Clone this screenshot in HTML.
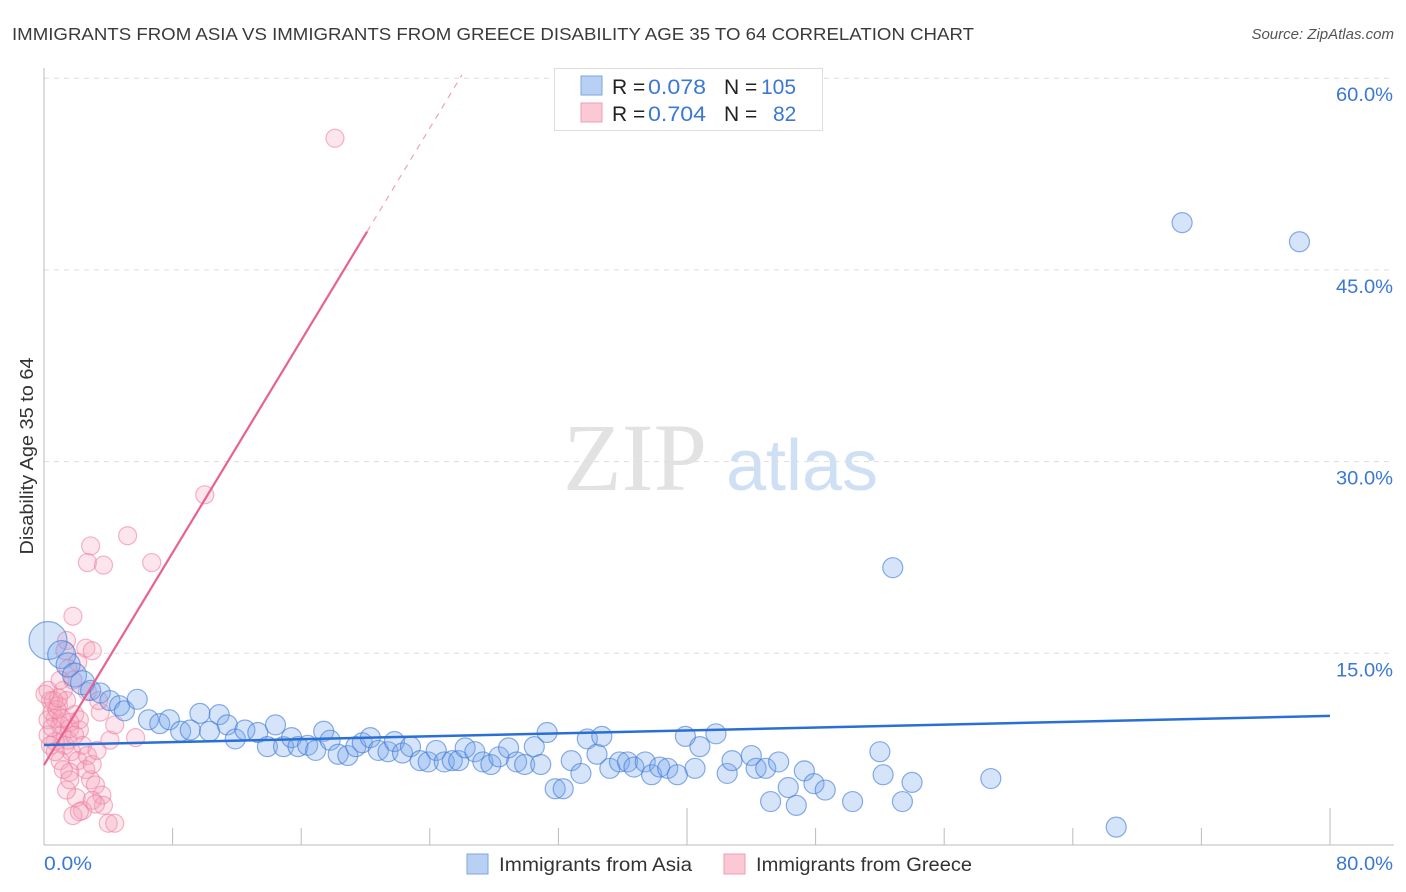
<!DOCTYPE html>
<html><head><meta charset="utf-8">
<style>
body{margin:0;background:#fff;font-family:"Liberation Sans",sans-serif;}
svg{display:block}
</style></head>
<body>
<svg id="chart" width="1406" height="892" viewBox="0 0 1406 892">
<text x="12" y="40" font-size="17.5" fill="#3a3a3a" textLength="962" lengthAdjust="spacingAndGlyphs">IMMIGRANTS FROM ASIA VS IMMIGRANTS FROM GREECE DISABILITY AGE 35 TO 64 CORRELATION CHART</text>
<text x="1394" y="39" font-size="15" font-style="italic" fill="#555" text-anchor="end">Source: ZipAtlas.com</text>
<g>
<text x="635" y="490" font-size="96" font-family="Liberation Serif,serif" fill="#e2e2e2" text-anchor="middle">ZIP</text>
<text x="802" y="490" font-size="72" fill="#cfe0f5" text-anchor="middle">atlas</text>
</g>
<g id="grid"></g>
<g id="axes"></g>
<g id="marks"></g>
<text x="33" y="456" font-size="18.5" fill="#333" text-anchor="middle" transform="rotate(-90 33 456)" textLength="197" lengthAdjust="spacingAndGlyphs">Disability Age 35 to 64</text>
<g>
<rect x="554.5" y="68.5" width="268" height="62" fill="#fff" stroke="#ddd"/>
<rect x="581" y="76" width="21" height="19" fill="#b8d0f3" stroke="#7ea6e0"/>
<rect x="581" y="103" width="21" height="19" fill="#fbc8d6" stroke="#f19bb5"/>
<text y="94" font-size="21"><tspan x="612" fill="#222">R =</tspan><tspan x="648" fill="#3a78d4" textLength="58" lengthAdjust="spacingAndGlyphs">0.078</tspan><tspan x="724" fill="#222">N =</tspan><tspan x="761" fill="#3a78d4">105</tspan></text>
<text y="121" font-size="21"><tspan x="612" fill="#222">R =</tspan><tspan x="648" fill="#3a78d4" textLength="58" lengthAdjust="spacingAndGlyphs">0.704</tspan><tspan x="724" fill="#222">N =</tspan><tspan x="773" fill="#3a78d4">82</tspan></text>
</g>
<g>
<rect x="467" y="854" width="21" height="20" fill="#b8d0f3" stroke="#7ea6e0"/>
<text x="499" y="871" font-size="19" fill="#333" textLength="193" lengthAdjust="spacingAndGlyphs">Immigrants from Asia</text>
<rect x="724" y="854" width="21" height="20" fill="#fbc8d6" stroke="#f19bb5"/>
<text x="756" y="871" font-size="19" fill="#333" textLength="216" lengthAdjust="spacingAndGlyphs">Immigrants from Greece</text>
</g>
</svg>
<script>
const yTicks=[15,30,45,60];
const yTickLabels=["15.0%","30.0%","45.0%","60.0%"];
const xTicks=[0,8,16,24,32,40,48,56,64,72,80];
const xEndLabels=["0.0%","80.0%"];
const asiaX=[0.25,1.1,1.5,1.9,2.4,2.9,3.5,4.1,4.7,5.0,5.8,6.5,7.2,7.8,8.5,9.1,9.7,10.3,10.9,11.4,11.9,12.5,13.3,13.9,14.4,14.9,15.4,15.8,16.4,16.9,17.4,17.8,18.3,18.9,19.4,19.8,20.3,20.8,21.4,21.8,22.3,22.8,23.4,23.9,24.4,24.9,25.4,25.8,26.2,26.8,27.3,27.8,28.3,28.9,29.4,29.9,30.5,30.9,31.3,31.8,32.3,32.8,33.4,33.8,34.4,34.7,35.2,35.8,36.3,36.7,37.4,37.8,38.3,38.8,39.4,39.9,40.5,40.8,41.8,42.5,42.8,44.0,44.3,44.9,45.7,45.2,46.3,46.8,47.3,47.9,48.6,50.3,52.0,52.2,52.8,53.4,54.0,58.9,66.7,70.8,78.1];
const asiaY=[16.0,14.9,14.1,13.3,12.7,12.1,11.9,11.3,10.9,10.5,11.4,9.8,9.5,9.8,8.9,9.0,10.3,8.9,10.2,9.4,8.3,9.0,8.8,7.7,9.4,7.7,8.4,7.7,7.8,7.4,8.9,8.2,7.1,7.0,7.7,8.0,8.4,7.4,7.3,8.1,7.2,7.7,6.6,6.5,7.4,6.5,6.6,6.6,7.6,7.3,6.5,6.3,6.9,7.6,6.5,6.3,7.7,6.3,8.8,4.4,4.4,6.6,5.6,8.3,7.1,8.5,6.0,6.5,6.5,6.1,6.5,5.5,6.1,6.0,5.5,8.5,6.0,7.7,8.7,5.6,6.6,7.0,6.0,6.0,6.5,3.4,4.5,3.1,5.8,4.8,4.3,3.4,7.3,5.5,21.7,3.4,4.9,5.2,1.4,48.7,47.2];
const greeceX=[0.25,0.4,0.5,0.7,0.9,1.0,1.1,1.3,1.5,1.6,1.7,1.9,2.1,2.2,2.4,2.6,2.7,2.9,3.0,3.2,3.3,3.5,3.6,3.7,4.0,4.4,0.25,0.7,1.0,1.2,1.4,1.6,1.8,2.0,2.4,2.6,2.7,3.0,3.2,1.4,1.3,2.1,1.5,0.6,0.8,0.25,0.4,0.7,1.1,1.2,1.4,1.6,1.8,2.2,3.0,3.4,4.1,4.4,5.2,2.9,2.7,3.7,6.7,1.8,10.0,18.1,5.7,2.2,0.9,0.5,1.0,0.06,1.6,1.9];
const greeceY=[12.1,11.3,10.4,9.9,10.9,9.4,8.6,7.8,8.2,9.1,7.3,10.2,6.6,9.0,7.8,5.9,7.0,5.1,6.3,4.7,7.4,10.4,3.9,3.1,1.7,1.7,9.8,8.1,6.6,12.1,11.3,5.7,12.9,3.7,2.7,15.4,12.0,3.5,3.2,16.0,15.2,14.3,13.8,11.3,10.6,8.6,7.8,7.3,9.9,5.9,4.3,5.1,2.3,2.6,15.2,11.3,8.2,9.4,24.2,23.4,22.1,21.9,22.1,17.9,27.4,55.3,8.4,9.8,11.5,9.2,12.9,11.8,9.6,8.6];
const asiaTrend=[7.82,10.1];
const greeceTrend=[6.26,48.0,20.1];

const NS="http://www.w3.org/2000/svg";
const X0=44,X1=1330,YB=845,PXY=12.78;
const sx=v=>X0+v*(X1-X0)/80;
const sy=v=>YB-v*PXY;
function mk(tag,attrs,parent){const e=document.createElementNS(NS,tag);for(const k in attrs)e.setAttribute(k,attrs[k]);parent.appendChild(e);return e;}
const grid=document.getElementById('grid'),axes=document.getElementById('axes'),marks=document.getElementById('marks');

yTicks.forEach((t,i)=>{
  const l=mk('line',{x1:X0,x2:1394,y1:sy(t),y2:sy(t),stroke:'#ddd','stroke-dasharray':'5,5'},grid);
  
  
  const tx=mk('text',{x:1393,y:sy(t)+23,'font-size':19,fill:'#3a78d4','text-anchor':'end',textLength:57,lengthAdjust:'spacingAndGlyphs'},axes);
  tx.textContent=yTickLabels[i];
  
  
});
const ya=mk('line',{x1:X0,x2:X0,y1:68,y2:YB,stroke:'#bbb'},axes);


const xa=mk('line',{x1:X0,x2:1394,y1:YB,y2:YB,stroke:'#bbb'},axes);


xTicks.forEach((t,i)=>{
  const long=(i===5||i===10);
  const tk=mk('line',{x1:sx(t),x2:sx(t),y1:long?808:828,y2:YB,stroke:'#bbb'},axes);
  
  
});
const xl0=mk('text',{x:44,y:870,'font-size':19,fill:'#3a78d4',textLength:48,lengthAdjust:'spacingAndGlyphs'},axes);
xl0.textContent=xEndLabels[0];


const xl1=mk('text',{x:1393,y:870,'font-size':19,fill:'#3a78d4','text-anchor':'end',textLength:57,lengthAdjust:'spacingAndGlyphs'},axes);
xl1.textContent=xEndLabels[1];



greeceX.forEach((x,i)=>{
  const c=mk('circle',{cx:sx(x),cy:sy(greeceY[i]),r:9,fill:'rgba(246,160,185,0.28)',stroke:'rgba(236,120,155,0.55)','stroke-width':1.2},marks);
  
  
});
asiaX.forEach((x,i)=>{
  const r=i===0?19:i===1?14:i<5?12:10;
  const c=mk('circle',{cx:sx(x),cy:sy(asiaY[i]),r:r,fill:'rgba(120,165,235,0.3)',stroke:'rgba(60,120,215,0.6)','stroke-width':1.2},marks);
  
  
});
const slope=(greeceTrend[1]-greeceTrend[0])/greeceTrend[2];
const gl=mk('line',{x1:sx(0),y1:sy(greeceTrend[0]),x2:sx(greeceTrend[2]),y2:sy(greeceTrend[1]),stroke:'#e8628f','stroke-width':2.2},marks);


const xe=26;
const gd=mk('line',{x1:sx(greeceTrend[2]),y1:sy(greeceTrend[1]),x2:sx(xe),y2:sy(greeceTrend[0]+slope*xe),stroke:'#f0a0bb','stroke-width':1.2,'stroke-dasharray':'6,6'},marks);


const al=mk('line',{x1:sx(0),y1:sy(asiaTrend[0]),x2:sx(80),y2:sy(asiaTrend[1]),stroke:'#2a6fd6','stroke-width':2.5},marks);


</script>
</body></html>
